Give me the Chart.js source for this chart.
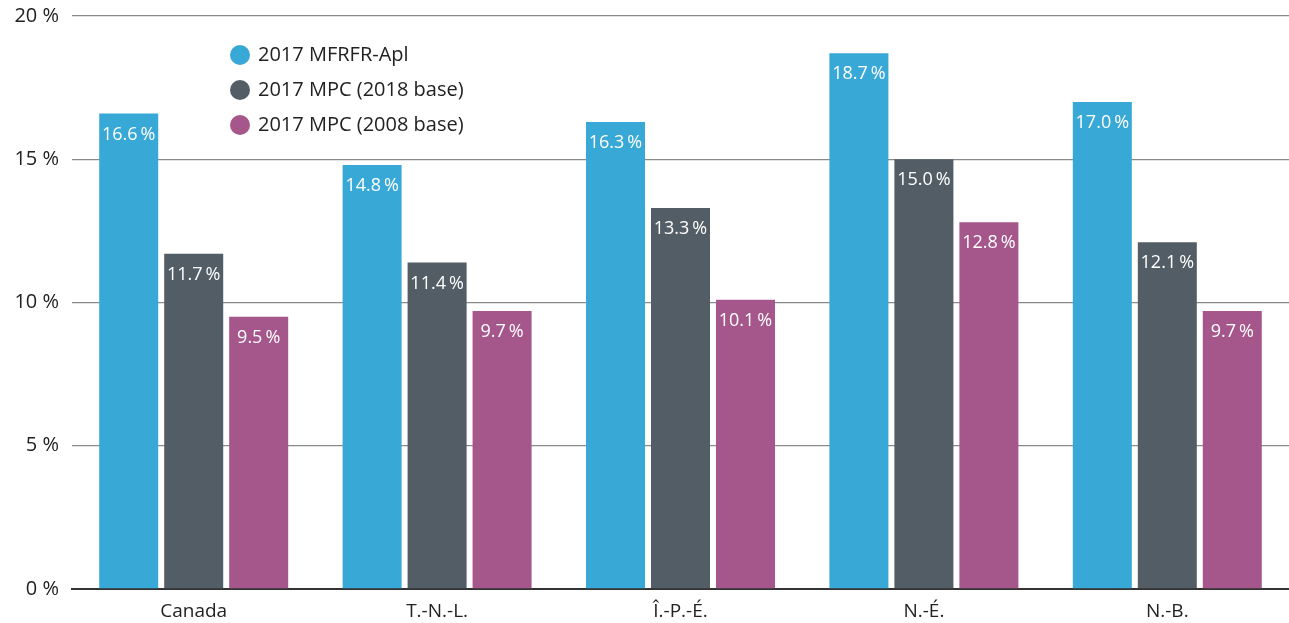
<!DOCTYPE html>
<html><head><meta charset="utf-8">
<script src="https://cdn.jsdelivr.net/npm/chart.js@4"></script>
<style>html,body{margin:0;padding:0;background:#fff}#wrap{width:1289px;height:623px;position:relative}</style>
</head><body><div id="wrap"><canvas id="c" width="1289" height="623"></canvas></div>
<script>
const categories = ["Canada", "T.-N.-L.", "Î.-P.-É.", "N.-É.", "N.-B."];
const seriesNames = ["2017 MFRFR-Apl", "2017 MPC (2018 base)", "2017 MPC (2008 base)"];
const mfrfr = [16.6, 14.8, 16.3, 18.7, 17.0];
const mpc2018 = [11.7, 11.4, 13.3, 15.0, 12.1];
const mpc2008 = [9.5, 9.7, 10.1, 12.8, 9.7];
const yTicks = [0, 5, 10, 15, 20];
const colors = ["#38a8d6", "#525d66", "#a5568b"];
const FONT = "'Open Sans', 'Noto Sans', sans-serif";

const valueLabels = {
  id: 'valueLabels',
  afterDatasetsDraw(chart) {
    const ctx = chart.ctx;
    ctx.save();
    ctx.font = "18px " + FONT;
    ctx.fillStyle = "#ffffff";
    ctx.textAlign = "center";
    ctx.textBaseline = "middle";
    chart.data.datasets.forEach((ds, i) => {
      chart.getDatasetMeta(i).data.forEach((bar, j) => {
        const t = ds.data[j].toFixed(1) + "\u2009%";
        ctx.fillText(t, bar.x, bar.y + 21);
      });
    });
    ctx.restore();
  }
};

const legendPlugin = {
  id: 'customLegend',
  afterDraw(chart) {
    const ctx = chart.ctx;
    ctx.save();
    ctx.font = "20px " + FONT;
    ctx.textBaseline = "middle";
    ctx.textAlign = "left";
    chart.data.datasets.forEach((ds, i) => {
      const y = 55 + i * 35;
      ctx.fillStyle = ds.backgroundColor;
      ctx.beginPath();
      ctx.arc(240, y, 10, 0, Math.PI * 2);
      ctx.fill();
      ctx.fillStyle = "#222";
      ctx.fillText(ds.label, 258, y);
    });
    ctx.restore();
  }
};

new Chart(document.getElementById('c'), {
  type: 'bar',
  data: {
    labels: categories,
    datasets: [
      { label: seriesNames[0], data: mfrfr, backgroundColor: colors[0] },
      { label: seriesNames[1], data: mpc2018, backgroundColor: colors[1] },
      { label: seriesNames[2], data: mpc2008, backgroundColor: colors[2] }
    ]
  },
  options: {
    responsive: false,
    animation: false,
    devicePixelRatio: 1,
    layout: { padding: { top: 16, right: 0, left: 0, bottom: 0 } },
    datasets: { bar: { categoryPercentage: 0.801, barPercentage: 0.908 } },
    plugins: { legend: { display: false }, tooltip: { enabled: false } },
    scales: {
      x: {
        grid: { display: false },
        border: { display: true, color: "#333", width: 2 },
        ticks: { color: "#222", font: { family: FONT, size: 19 }, padding: 3 },
        afterFit(s) { s.height = 34; s.paddingLeft = 0; s.paddingRight = 0; }
      },
      y: {
        min: 0, max: 20,
        afterBuildTicks(s) { s.ticks = yTicks.map(v => ({ value: v })); },
        grid: { color: (c) => c.tick && c.tick.value === 0 ? "#333" : "#8a8a8a", lineWidth: 1.3, drawTicks: false },
        border: { display: false },
        ticks: { color: "#222", font: { family: FONT, size: 20 }, padding: 13, callback: v => v + " %" },
        afterFit(s) { s.width = 72; s.paddingTop = 0; s.paddingBottom = 0; }
      }
    }
  },
  plugins: [valueLabels, legendPlugin]
});
</script></body></html>
